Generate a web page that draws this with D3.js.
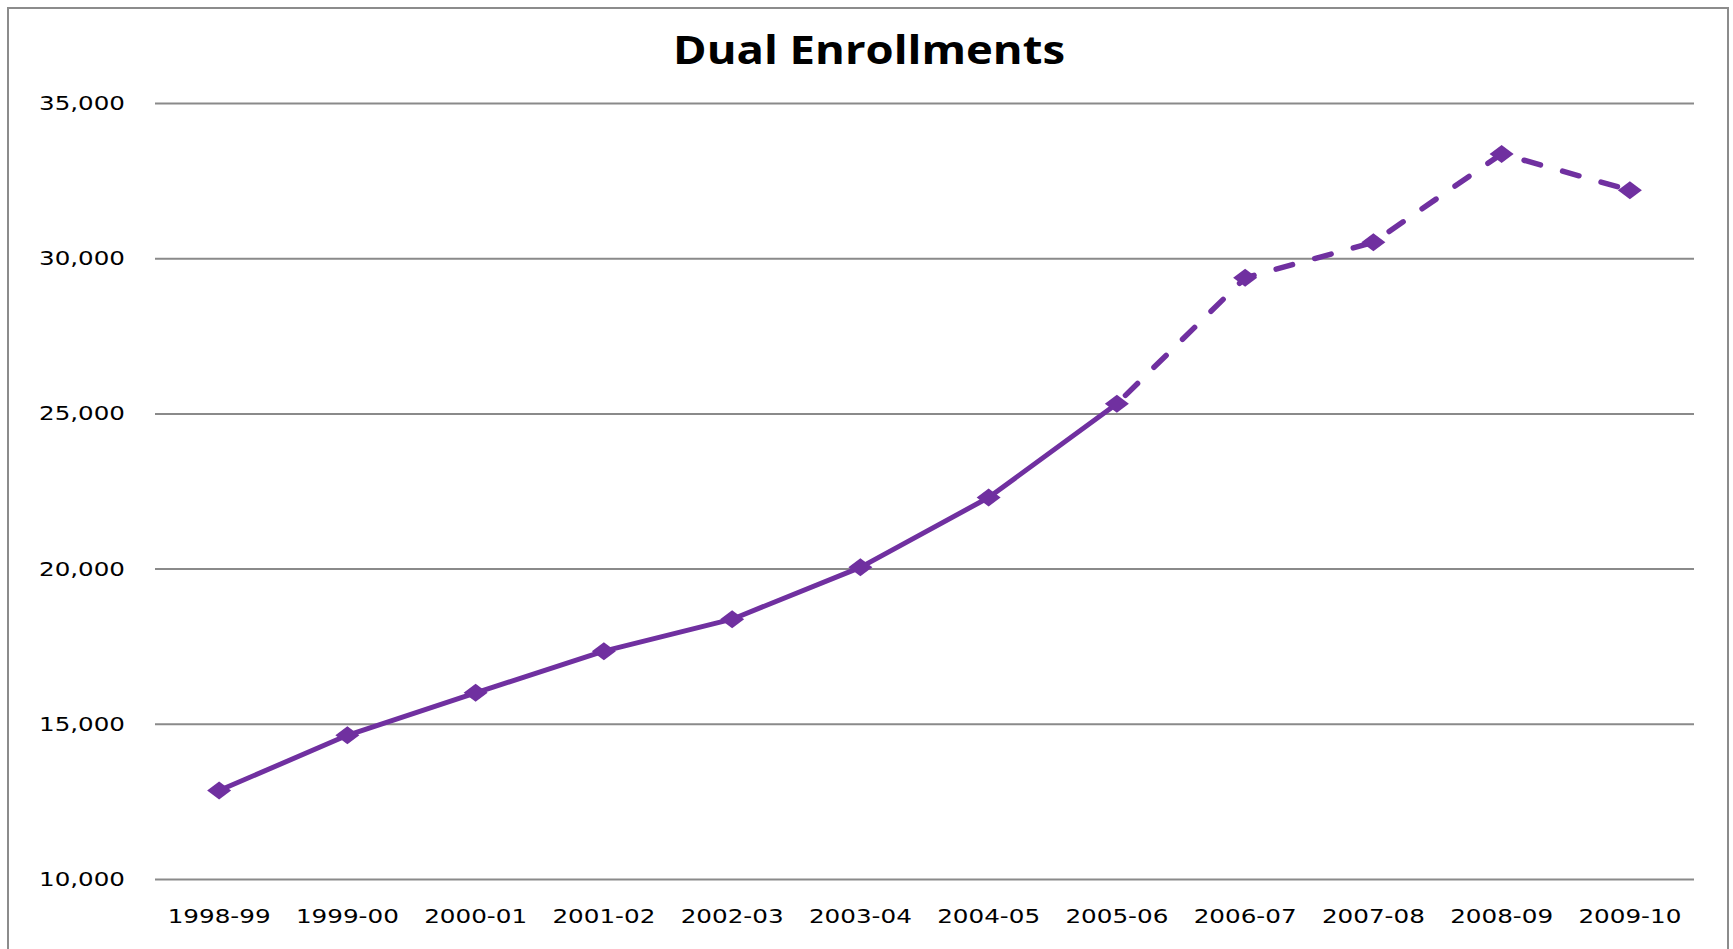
<!DOCTYPE html>
<html>
<head>
<meta charset="utf-8">
<script src="https://cdn.jsdelivr.net/npm/d3@7"></script>
<style>
  body { margin: 0; background: #fff; }
  svg { display: block; }
</style>
</head>
<body>
<div id="chart"></div>
<script>
const width = 1733,
  height = 949,
  margin = { top: 103, bottom: 70, left: 155, right: 39 };

// data
const years = ["1998-99", "1999-00", "2000-01", "2001-02", "2002-03", "2003-04",
  "2004-05", "2005-06", "2006-07", "2007-08", "2008-09", "2009-10"];
const enrollments = [12850, 14630, 16000, 17340, 18370, 20040,
  22290, 25310, 29370, 30510, 33360, 32190];
const yTicks = [10000, 15000, 20000, 25000, 30000, 35000];
// the line turns dashed from this year on
const dashFrom = "2005-06";

const purple = "#7030A0";

let svg = d3.select("#chart")
  .append("svg")
  .attr("width", width)
  .attr("height", height);

// outer chart border (bottom edge runs off the picture)
svg.append("rect")
  .attr("x", 8)
  .attr("y", 8)
  .attr("width", 1720)
  .attr("height", 980)
  .attr("fill", "none")
  .attr("stroke", "#8c8c8c")
  .attr("stroke-width", 2);

let x = d3.scaleBand()
  .domain(years)
  .range([margin.left, width - margin.right]);

let y = d3.scaleLinear()
  .domain([10000, 35000])
  .range([height - margin.bottom, margin.top]);

// gridlines + y labels
let yAxis = svg.append("g")
  .attr("transform", "translate(" + margin.left + ",0)")
  .call(d3.axisLeft(y)
    .tickValues(yTicks)
    .tickFormat(d3.format(","))
    .tickSize(-(width - margin.left - margin.right))
    .tickPadding(30));

yAxis.select(".domain").remove();
yAxis.selectAll(".tick line")
  .attr("stroke", "#8a8a8a")
  .attr("stroke-width", 2);
yAxis.selectAll(".tick text")
  .attr("fill", "#000")
  .attr("font-family", "DejaVu Sans")
  .attr("font-size", 20)
  .attr("textLength", 86)
  .attr("lengthAdjust", "spacingAndGlyphs");

// x labels
let xAxis = svg.append("g")
  .attr("transform", "translate(0," + (height - margin.bottom) + ")")
  .call(d3.axisBottom(x).tickSize(0).tickPadding(30));

xAxis.select(".domain").remove();
xAxis.selectAll(".tick text")
  .attr("fill", "#000")
  .attr("font-family", "DejaVu Sans")
  .attr("font-size", 20)
  .attr("textLength", 103)
  .attr("lengthAdjust", "spacingAndGlyphs");

// title
svg.append("text")
  .attr("x", 869)
  .attr("y", 64)
  .attr("text-anchor", "middle")
  .attr("font-family", "Open Sans")
  .attr("font-weight", "bold")
  .attr("font-size", 39)
  .attr("textLength", 392)
  .attr("lengthAdjust", "spacingAndGlyphs")
  .text("Dual Enrollments");

const points = years.map((d, i) => ({ year: d, value: enrollments[i] }));
const cut = years.indexOf(dashFrom);

const line = d3.line()
  .x(d => x(d.year) + x.bandwidth() / 2)
  .y(d => y(d.value));

// solid part
svg.append("path")
  .datum(points.slice(0, cut + 1))
  .attr("d", line)
  .attr("fill", "none")
  .attr("stroke", purple)
  .attr("stroke-width", 5)
  .attr("stroke-linejoin", "round");

// dashed part
svg.append("path")
  .datum(points.slice(cut))
  .attr("d", line)
  .attr("fill", "none")
  .attr("stroke", purple)
  .attr("stroke-width", 5.5)
  .attr("stroke-linecap", "round")
  .attr("stroke-dasharray", "17,23")
  .attr("stroke-dashoffset", -12);

// diamond markers, a bit wider than tall like the stretched original
svg.selectAll(".marker")
  .data(points)
  .join("path")
  .attr("class", "marker")
  .attr("d", "M0,-9L12,0L0,9L-12,0Z")
  .attr("transform", d => "translate(" + (x(d.year) + x.bandwidth() / 2) + "," + y(d.value) + ")")
  .attr("fill", purple);
</script>
</body>
</html>
